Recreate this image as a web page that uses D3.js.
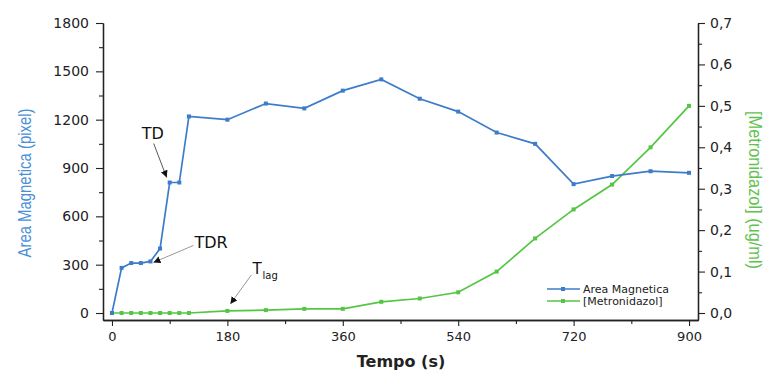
<!DOCTYPE html>
<html>
<head>
<meta charset="utf-8">
<script src="https://cdn.jsdelivr.net/npm/d3@7"></script>
<style>
  body { margin: 0; background: #fff; }
  svg { display: block; }
</style>
</head>
<body>
<div id="container"></div>
<script>
// data
const tempo = [0, 15, 30, 45, 60, 75, 90, 105, 120, 180, 240, 300, 360, 420, 480, 540, 600, 660, 720, 780, 840, 900];
const areaMagnetica = [0, 280, 310, 310, 320, 400, 810, 810, 1220, 1200, 1300, 1270, 1380, 1450, 1330, 1250, 1120, 1050, 800, 850, 880, 870];
const metronidazol = [0, 0, 0, 0, 0, 0, 0, 0, 0, 0.005, 0.007, 0.01, 0.01, 0.027, 0.035, 0.05, 0.1, 0.18, 0.25, 0.31, 0.40, 0.50];

const xTicks = [0, 180, 360, 540, 720, 900];
const xMinor = [90, 270, 450, 630, 810];
const yLeftTicks = [0, 300, 600, 900, 1200, 1500, 1800];
const yLeftMinor = [150, 450, 750, 1050, 1350, 1650];
const yRightTicks = [0, 0.1, 0.2, 0.3, 0.4, 0.5, 0.6, 0.7];
const yRightMinor = [0.05, 0.15, 0.25, 0.35, 0.45, 0.55, 0.65];

const BLUE = '#3d7cc9';
const GREEN = '#55c544';
const width = 767, height = 370;

const svg = d3.select('#container').append('svg')
    .attr('width', width).attr('height', height);

const x = d3.scaleLinear().domain([-14, 914]).range([103, 698]);
const yL = d3.scaleLinear().domain([-43.4, 1800]).range([320, 23]);
const yR = d3.scaleLinear().domain([-0.0169, 0.7]).range([320, 23]);

const font = 'DejaVu Sans, Arial, sans-serif';

function styleAxis(size) {
  return g => {
    g.select('.domain').attr('stroke', '#222').attr('stroke-width', 1.3);
    g.selectAll('.tick line').attr('stroke', '#222').attr('stroke-width', 1.1);
    g.selectAll('.tick text').attr('fill', '#222').style('font-family', font).style('font-size', size);
  };
}

// x axis
svg.append('g').attr('transform', 'translate(0,320)')
  .call(d3.axisBottom(x).tickValues(xTicks).tickSize(6).tickSizeOuter(0).tickPadding(6).tickFormat(d3.format('d')))
  .call(styleAxis('13px'));
svg.append('g').attr('transform', 'translate(0,320)')
  .call(d3.axisBottom(x).tickValues(xMinor).tickSize(4).tickSizeOuter(0).tickFormat(''))
  .call(styleAxis('13px'));

// left axis
svg.append('g').attr('transform', 'translate(103,0)')
  .call(d3.axisLeft(yL).tickValues(yLeftTicks).tickSize(7).tickSizeOuter(0).tickPadding(7).tickFormat(d3.format('d')))
  .call(styleAxis('14px'));
svg.append('g').attr('transform', 'translate(103,0)')
  .call(d3.axisLeft(yL).tickValues(yLeftMinor).tickSize(4).tickSizeOuter(0).tickFormat(''))
  .call(styleAxis('14px'));

// right axis
const fmtComma = d => d3.format('.1f')(d).replace('.', ',');
svg.append('g').attr('transform', 'translate(698,0)')
  .call(d3.axisRight(yR).tickValues(yRightTicks).tickSize(7).tickSizeOuter(0).tickPadding(5).tickFormat(fmtComma))
  .call(styleAxis('14px'));
svg.append('g').attr('transform', 'translate(698,0)')
  .call(d3.axisRight(yR).tickValues(yRightMinor).tickSize(4).tickSizeOuter(0).tickFormat(''))
  .call(styleAxis('14px'));

// axis titles (condensed look via textLength)
svg.append('text')
  .attr('transform', 'translate(31,183) rotate(-90)')
  .attr('text-anchor', 'middle')
  .attr('fill', '#4a8fd6')
  .attr('textLength', 149).attr('lengthAdjust', 'spacingAndGlyphs')
  .style('font-family', 'Liberation Sans, Arial, sans-serif')
  .style('font-size', '19px')
  .text('Area Magnetica (pixel)');

svg.append('text')
  .attr('transform', 'translate(749,190) rotate(90)')
  .attr('text-anchor', 'middle')
  .attr('fill', '#62c250')
  .attr('textLength', 158).attr('lengthAdjust', 'spacingAndGlyphs')
  .style('font-family', 'Liberation Sans, Arial, sans-serif')
  .style('font-size', '18px')
  .text('[Metronidazol] (ug/ml)');

svg.append('text')
  .attr('x', 401).attr('y', 367)
  .attr('text-anchor', 'middle')
  .attr('fill', '#222')
  .style('font-family', font)
  .style('font-weight', 'bold')
  .style('font-size', '16px')
  .text('Tempo (s)');

// series
const area = tempo.map((t, i) => ({ t, v: areaMagnetica[i] }));
const metro = tempo.map((t, i) => ({ t, v: metronidazol[i] }));

function drawSeries(data, y, color) {
  svg.append('path').datum(data)
    .attr('fill', 'none').attr('stroke', color).attr('stroke-width', 1.7)
    .attr('d', d3.line().x(d => x(d.t)).y(d => y(d.v)));
  svg.append('g').selectAll('rect').data(data).enter().append('rect')
    .attr('x', d => x(d.t) - 2).attr('y', d => y(d.v) - 2)
    .attr('width', 4).attr('height', 4)
    .attr('fill', color);
}
drawSeries(metro, yR, GREEN);
drawSeries(area, yL, BLUE);

// annotations
svg.append('defs').append('marker')
  .attr('id', 'arrow').attr('viewBox', '0 0 10 10')
  .attr('refX', 10).attr('refY', 5)
  .attr('markerWidth', 7).attr('markerHeight', 7)
  .attr('markerUnits', 'userSpaceOnUse')
  .attr('orient', 'auto')
  .append('path').attr('d', 'M0,0 L10,5 L0,10 z').attr('fill', '#111');

// TD -> point at 90 s
svg.append('line')
  .attr('x1', x(90) - 16).attr('y1', yL(810) - 39)
  .attr('x2', x(90) - 3).attr('y2', yL(810) - 5)
  .attr('stroke', '#555').attr('stroke-width', 1)
  .attr('marker-end', 'url(#arrow)');
svg.append('text')
  .attr('x', x(90) - 17).attr('y', yL(810) - 44)
  .attr('text-anchor', 'middle')
  .style('font-family', font).style('font-size', '16px').attr('fill', '#111')
  .text('TD');

// TDR -> point at 60 s
svg.append('line')
  .attr('x1', x(60) + 43).attr('y1', yL(320) - 16)
  .attr('x2', x(60) + 3).attr('y2', yL(320) + 1)
  .attr('stroke', '#999').attr('stroke-width', 1)
  .attr('marker-end', 'url(#arrow)');
svg.append('text')
  .attr('x', x(60) + 44).attr('y', yL(320) - 13)
  .style('font-family', font).style('font-size', '16px').attr('fill', '#111')
  .text('TDR');

// Tlag -> point at 180 s
svg.append('line')
  .attr('x1', x(180) + 24).attr('y1', yR(0.005) - 36)
  .attr('x2', x(180) + 3).attr('y2', yR(0.005) - 7)
  .attr('stroke', '#999').attr('stroke-width', 1)
  .attr('marker-end', 'url(#arrow)');
const tl = svg.append('text')
  .attr('x', x(180) + 25).attr('y', yR(0.005) - 37)
  .style('font-family', font).style('font-size', '15px').attr('fill', '#111');
tl.append('tspan').text('T');
tl.append('tspan').attr('dy', 5).attr('dx', 1).style('font-size', '10px').text('lag');

// legend
const legendItems = [
  { name: 'Area Magnetica', color: BLUE },
  { name: '[Metronidazol]', color: GREEN }
];
const lg = svg.append('g').selectAll('g').data(legendItems).enter().append('g')
  .attr('transform', (d, i) => `translate(547,${289 + i * 12})`);
lg.append('line').attr('x1', 0).attr('x2', 33).attr('stroke', d => d.color).attr('stroke-width', 1.5);
lg.append('rect').attr('x', 14).attr('y', -2).attr('width', 4).attr('height', 4).attr('fill', d => d.color);
lg.append('text').attr('x', 36).attr('y', 4)
  .style('font-family', font).style('font-size', '11px').attr('fill', '#222')
  .text(d => d.name);
</script>
</body>
</html>
